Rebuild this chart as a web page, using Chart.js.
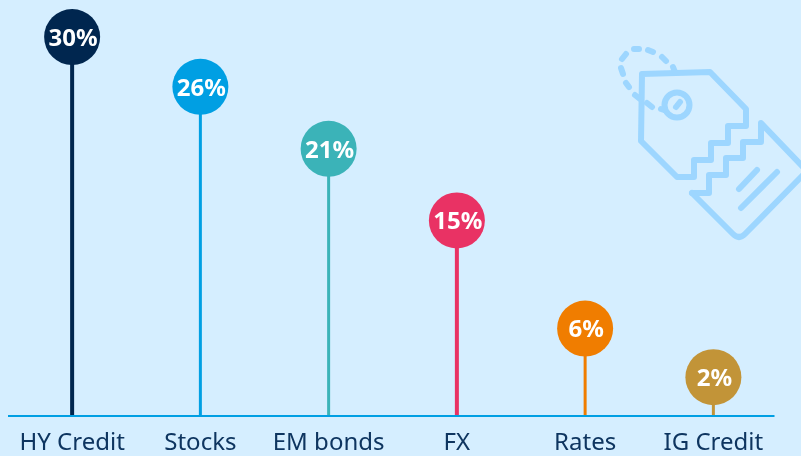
<!DOCTYPE html>
<html>
<head>
<meta charset="utf-8">
<script src="https://cdn.jsdelivr.net/npm/chart.js@4"></script>
<style>
  html, body { margin: 0; padding: 0; background: #d5eeff; overflow: hidden; }
  #wrap { position: relative; width: 801px; height: 456px; }
  #tag { position: absolute; left: 600px; top: 30px; }
  canvas { position: absolute; left: 0; top: 0; }
</style>
</head>
<body>
<div id="wrap">
  <!-- price tag icon behind the chart -->
  <svg id="tag" width="201" height="220" viewBox="0 0 201 220" fill="none" stroke="#9dd6ff" stroke-width="6" stroke-linecap="round" stroke-linejoin="round">
    <path d="M42 44 L110 42 L146 79 L146 96 L128 96 L128 113 L111 113 L111 130 L94 130 L94 147 L77 147 L41 111 Z"/>
    <path d="M92 163 L109 163 L109 145 L126 145 L126 128 L143 128 L143 112 L161 112 L161 93 L203 137"/>
    <path d="M92 163 L133 204 Q139 210 145 204 L203 145"/>
    <path d="M139 159 L157 140"/>
    <path d="M141 178 L177 142"/>
    <circle cx="77" cy="75" r="12.5"/>
    <path d="M76 77 L80 72"/>
    <path d="M34 19 L39 19 M48 20 L53 22 M62 27 L66 31 M73 37 L75 42 M22 29 L26 24 M21 38 L23 44 M26 53 L29 57 M35 65 L40 69 M47 73 L52 77 M61 79 L64 80"/>
  </svg>
  <canvas id="tagChart" width="801" height="456"></canvas>
</div>
<script>
// chart data
const categories = ['HY Credit', 'Stocks', 'EM bonds', 'FX', 'Rates', 'IG Credit'];
const shares = [30, 25.9, 20.8, 14.9, 6, 2]; // heights
const shareLabels = ['30%', '26%', '21%', '15%', '6%', '2%'];
const colors = ['#00264f', '#009fe3', '#3bb3b8', '#e93264', '#f07d00', '#c29438'];
const yMin = -1.2;
const yMax = 33.05;

// white percentage text in the middle of each bubble
const bubbleLabels = {
    id: 'bubbleLabels',
    afterDatasetsDraw(chart) {
        const c = chart.ctx;
        const points = chart.getDatasetMeta(0).data;
        c.save();
        c.fillStyle = '#ffffff';
        c.font = '700 24px "Noto Sans"';
        c.textAlign = 'center';
        c.textBaseline = 'middle';
        points.forEach((p, i) => c.fillText(shareLabels[i], p.x + 1, p.y + 2));
        c.restore();
    }
};

// baseline stops a little short of the last category band
const baseline = {
    id: 'baseline',
    afterDatasetsDraw(chart) {
        const x = chart.scales.x;
        const c = chart.ctx;
        c.save();
        c.fillStyle = '#009fe3';
        c.fillRect(x.left, x.top - 1, x.width - 3, 2);
        c.restore();
    }
};

new Chart(document.getElementById('tagChart').getContext('2d'), {
    data: {
        labels: categories,
        datasets: [
            {
                type: 'line',
                data: shares,
                showLine: false,
                pointRadius: 28,
                pointHoverRadius: 28,
                pointBorderWidth: 0,
                pointBackgroundColor: colors,
                clip: false,
                order: 1
            },
            {
                type: 'bar',
                data: shares,
                base: yMin,
                barThickness: 3,
                // the first and the FX stem are a bit heavier
                inflateAmount: ctx => (ctx.dataIndex === 0 || ctx.dataIndex === 3) ? 0.5 : 0,
                backgroundColor: colors,
                order: 2
            }
        ]
    },
    options: {
        responsive: false,
        animation: false,
        layout: { autoPadding: false, padding: { left: 8, right: 23.5, top: 0, bottom: 0 } },
        plugins: { legend: { display: false }, tooltip: { enabled: false } },
        scales: {
            x: {
                grid: { display: false, drawTicks: false },
                border: { display: false },
                ticks: { color: '#0e3560', font: { family: 'Noto Sans', size: 24 }, padding: 13, maxRotation: 0, autoSkip: false },
                afterFit: scale => { scale.height = 40; }
            },
            y: {
                display: false,
                min: yMin,
                max: yMax
            }
        }
    },
    plugins: [baseline, bubbleLabels]
});
</script>
</body>
</html>
